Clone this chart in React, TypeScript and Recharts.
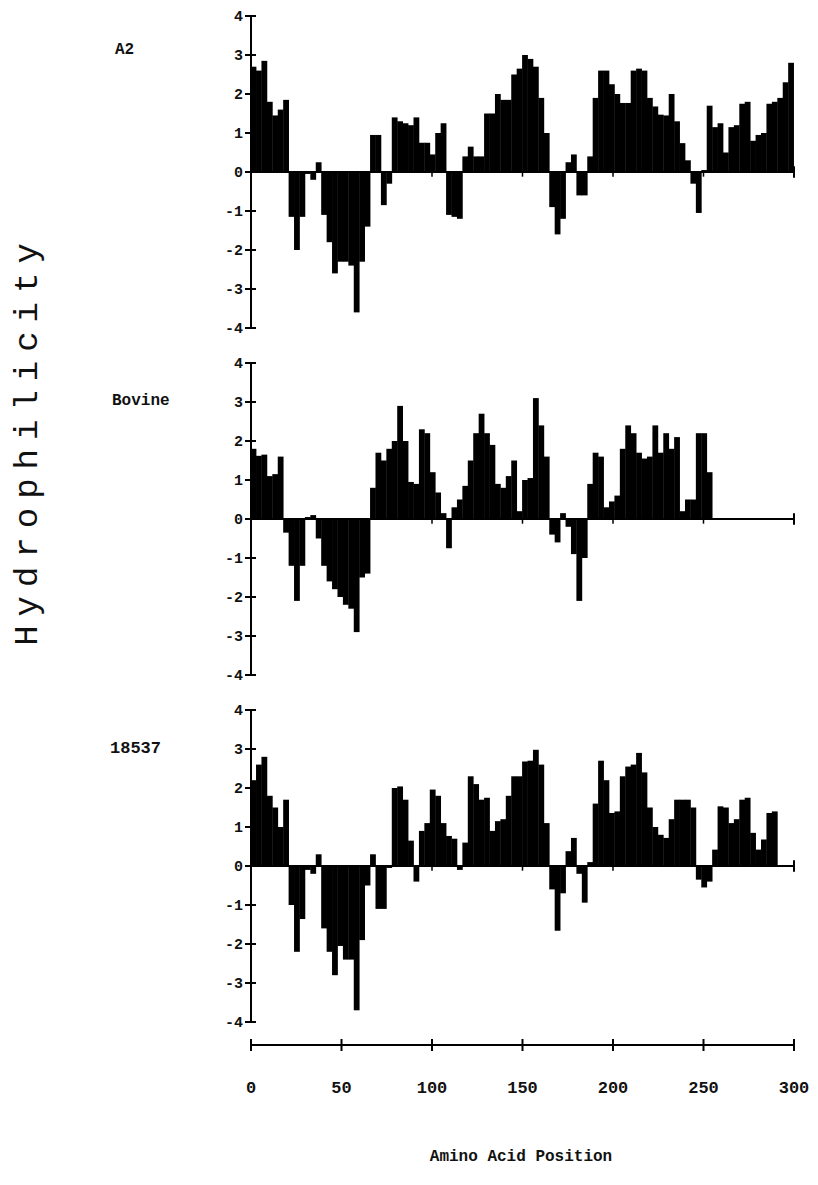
import { BarChart, Bar, XAxis, YAxis, ReferenceLine } from 'recharts';

// residue positions, one bar per 3 residues
const POSITIONS = Array.from({ length: 100 }, (_, i) => i * 3);

const A2 = [
  2.7, 2.6, 2.85, 1.8, 1.45, 1.6, 1.85, -1.15, -2.0, -1.15,
  -0.05, -0.2, 0.25, -1.1, -1.8, -2.6, -2.3, -2.3, -2.4, -3.6,
  -2.3, -1.4, 0.95, 0.95, -0.85, -0.3, 1.4, 1.3, 1.25, 1.2,
  1.4, 0.75, 0.75, 0.45, 1.0, 1.25, -1.1, -1.15, -1.2, 0.4,
  0.65, 0.4, 0.4, 1.5, 1.5, 2.0, 1.85, 1.85, 2.5, 2.65,
  3.0, 2.9, 2.7, 1.9, 1.0, -0.9, -1.6, -1.2, 0.25, 0.45,
  -0.6, -0.6, 0.4, 1.9, 2.6, 2.6, 2.25, 2.0, 1.77, 1.77,
  2.6, 2.65, 2.6, 1.9, 1.68, 1.47, 1.45, 2.0, 1.3, 0.74,
  0.3, -0.3, -1.05, 0.05, 1.7, 1.15, 1.25, 0.5, 1.15, 1.2,
  1.75, 1.8, 0.8, 0.95, 1.0, 1.75, 1.8, 1.9, 2.3, 2.8,
];

const BOVINE = [
  1.8, 1.62, 1.65, 1.1, 1.15, 1.6, -0.35, -1.2, -2.1, -1.2,
  0.05, 0.1, -0.5, -1.2, -1.6, -1.8, -2.0, -2.2, -2.3, -2.9,
  -1.5, -1.4, 0.8, 1.7, 1.5, 1.8, 2.0, 2.9, 2.0, 0.95,
  0.9, 2.3, 2.2, 1.2, 0.68, 0.15, -0.75, 0.3, 0.5, 0.85,
  1.5, 2.2, 2.7, 2.2, 1.9, 0.9, 0.8, 1.1, 1.5, 0.2,
  1.0, 1.05, 3.1, 2.4, 1.6, -0.4, -0.6, 0.15, -0.2, -0.9,
  -2.1, -1.0, 0.9, 1.7, 1.6, 0.3, 0.45, 0.6, 1.8, 2.4,
  2.2, 1.7, 1.55, 1.6, 2.4, 1.7, 2.2, 1.8, 2.1, 0.2,
  0.5, 0.5, 2.2, 2.2, 1.2, 0, 0, 0, 0, 0,
  0, 0, 0, 0, 0, 0, 0, 0, 0, 0,
];

const S18537 = [
  2.2, 2.6, 2.8, 1.8, 1.5, 1.0, 1.7, -1.0, -2.2, -1.36,
  -0.1, -0.2, 0.3, -1.6, -2.2, -2.8, -2.05, -2.4, -2.4, -3.7,
  -1.9, -0.5, 0.3, -1.1, -1.1, -0.05, 2.0, 2.04, 1.7, 0.65,
  -0.4, 0.9, 1.1, 1.96, 1.8, 1.1, 0.77, 0.7, -0.1, 0.6,
  2.3, 2.1, 1.7, 1.75, 0.9, 1.15, 1.2, 1.8, 2.3, 2.3,
  2.68, 2.7, 2.98, 2.6, 1.1, -0.6, -1.66, -0.7, 0.38, 0.72,
  -0.2, -0.94, 0.1, 1.6, 2.7, 2.2, 1.36, 1.4, 2.3, 2.55,
  2.6, 2.9, 2.4, 1.5, 1.0, 0.8, 0.72, 1.2, 1.7, 1.7,
  1.7, 1.5, -0.35, -0.55, -0.4, 0.42, 1.53, 1.5, 1.1, 1.2,
  1.7, 1.75, 0.85, 0.42, 0.68, 1.36, 1.4, 0, 0, 0,
];

const Y_TICKS = [-4, -3, -2, -1, 0, 1, 2, 3, 4];
const X_TICKS = [0, 50, 100, 150, 200, 250, 300];
const ZERO_TICKS = [50, 100, 150, 200, 250];

const MONO = '"Liberation Mono", "DejaVu Sans Mono", monospace';

const YTick = (props: any) => {
  const { x, y, payload } = props;
  return (
    <g>
      <line x1={x - 6} x2={x + 5} y1={y} y2={y} stroke="#000" strokeWidth={2} />
      <text x={x - 8} y={y} dy={5} textAnchor="end" fontFamily={MONO} fontWeight="bold" fontSize={15} fill="#111">
        {payload.value}
      </text>
    </g>
  );
};

const XTick = (props: any) => {
  const { x, y, payload } = props;
  return (
    <g>
      <line x1={x} x2={x} y1={y - 6} y2={y + 6} stroke="#000" strokeWidth={2} />
      <text x={x} y={y + 48} textAnchor="middle" fontFamily={MONO} fontWeight="bold" fontSize={17} fill="#111">
        {payload.value}
      </text>
    </g>
  );
};

// solid block bar, slightly widened so neighbouring bars merge without seams
const BlockBar = (props: any) => {
  const { x, y, width, height } = props;
  if (!height) return <g />;
  const top = Math.min(y, y + height);
  return <rect x={x - 0.4} y={top} width={width + 0.8} height={Math.abs(height)} fill="#000" />;
};

interface PanelProps {
  values: number[];
  top: number;
  bottomAxis?: boolean;
}

const Panel = ({ values, top, bottomAxis = false }: PanelProps) => {
  const data = POSITIONS.map((pos, i) => ({ pos, h: values[i] }));
  const height = bottomAxis ? 16 + 312 + 23 + 80 : 16 + 312 + 12;
  return (
    <div style={{ position: 'absolute', left: 0, top }}>
      <BarChart
        width={818}
        height={height}
        data={data}
        margin={{ top: 16, right: 24, left: 0, bottom: bottomAxis ? 0 : 12 }}
        barCategoryGap={0}
        barGap={0}
      >
        <XAxis xAxisId="c" dataKey="pos" hide={!bottomAxis} height={23} tick={false} axisLine={false} tickLine={false} />
        <XAxis
          xAxisId="n"
          dataKey="pos"
          type="number"
          domain={[0, 300]}
          ticks={X_TICKS}
          interval={0}
          hide={!bottomAxis}
          height={80}
          tickSize={0}
          tickMargin={0}
          tickLine={false}
          axisLine={{ stroke: '#000', strokeWidth: 2 }}
          tick={<XTick />}
        />
        <YAxis
          domain={[-4, 4]}
          ticks={Y_TICKS}
          interval={0}
          width={251}
          tickSize={0}
          tickMargin={0}
          tickLine={false}
          axisLine={{ stroke: '#000', strokeWidth: 2 }}
          tick={<YTick />}
        />
        <Bar xAxisId="c" dataKey="h" fill="#000" shape={<BlockBar />} isAnimationActive={false} />
        <ReferenceLine xAxisId="n" y={0} stroke="#000" strokeWidth={2} />
        {ZERO_TICKS.map((t) => (
          <ReferenceLine key={t} xAxisId="n" segment={[{ x: t, y: 0 }, { x: t, y: -0.12 }]} stroke="#000" strokeWidth={1.5} />
        ))}
        <ReferenceLine xAxisId="n" segment={[{ x: 300, y: 0.15 }, { x: 300, y: -0.15 }]} stroke="#000" strokeWidth={2} />
      </BarChart>
    </div>
  );
};

const labelStyle = {
  position: 'absolute' as const,
  fontFamily: MONO,
  fontWeight: 'bold' as const,
  color: '#111',
  lineHeight: '20px',
  whiteSpace: 'nowrap' as const,
};

export default function App() {
  return (
    <div style={{ position: 'absolute', left: 0, top: 0, width: 818, height: 1185, background: '#fff' }}>
      <Panel values={A2} top={0} />
      <Panel values={BOVINE} top={347} />
      <Panel values={S18537} top={694} bottomAxis />

      <div style={{ ...labelStyle, left: 115, top: 40, fontSize: 16 }}>A2</div>
      <div style={{ ...labelStyle, left: 112, top: 391, fontSize: 16 }}>Bovine</div>
      <div style={{ ...labelStyle, left: 110, top: 739, fontSize: 17 }}>18537</div>

      <div
        style={{
          position: 'absolute',
          left: 28,
          top: 440,
          transform: 'translate(-50%, -50%) rotate(-90deg)',
          fontFamily: MONO,
          fontSize: 34,
          letterSpacing: 9,
          color: '#111',
          whiteSpace: 'nowrap',
        }}
      >
        Hydrophilicity
      </div>
      <div style={{ ...labelStyle, left: 521, top: 1147, fontSize: 16, transform: 'translateX(-50%)' }}>
        Amino Acid Position
      </div>
    </div>
  );
}
